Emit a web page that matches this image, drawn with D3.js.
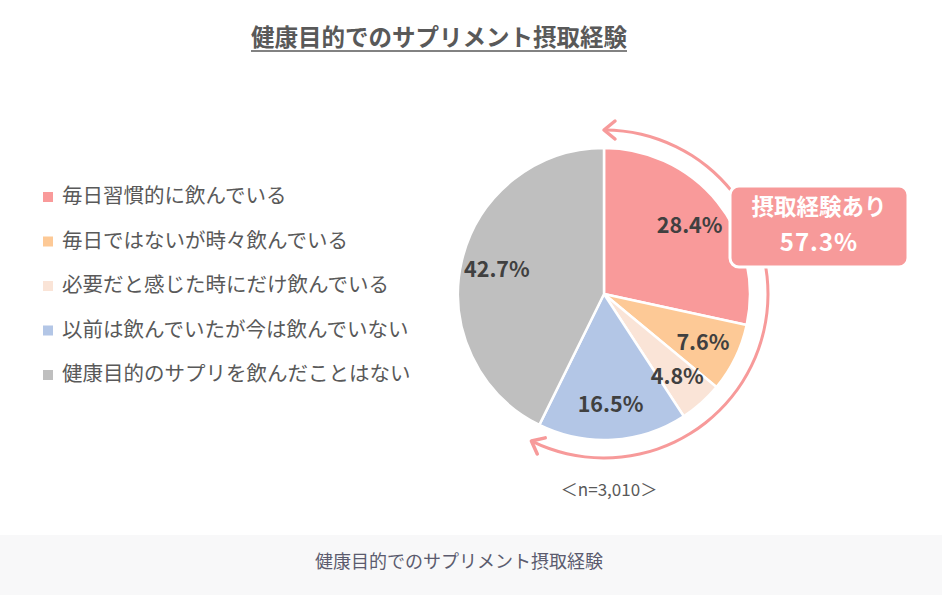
<!DOCTYPE html>
<html>
<head>
<meta charset="utf-8">
<script src="https://cdn.jsdelivr.net/npm/d3@7"></script>
<style>
  body { margin: 0; background: #fff; }
  svg { display: block; font-family: "Noto Sans CJK JP", "Noto Sans", sans-serif; }
</style>
</head>
<body>
<div class="chart"></div>
<script>
// data
const categories = [
  "毎日習慣的に飲んでいる",
  "毎日ではないが時々飲んでいる",
  "必要だと感じた時にだけ飲んでいる",
  "以前は飲んでいたが今は飲んでいない",
  "健康目的のサプリを飲んだことはない"
];
const values = [28.4, 7.6, 4.8, 16.5, 42.7];
const colors = ["#f99a9a", "#fdc996", "#fae4d7", "#b3c6e6", "#bfbfbf"];
const titleText = "健康目的でのサプリメント摂取経験";
const calloutLabel = "摂取経験あり";
const calloutValue = "57.3%";
const sampleText = "＜n=3,010＞";
const experiencedCount = 4; // first four slices make up the 57.3%

const width = 942, height = 595;
const svg = d3.select(".chart").append("svg")
  .attr("width", width)
  .attr("height", height);

// footer band
svg.append("rect")
  .attr("x", 0).attr("y", 535)
  .attr("width", width).attr("height", height - 535)
  .attr("fill", "#f8f8f9");
svg.append("text")
  .attr("x", 459).attr("y", 568)
  .attr("text-anchor", "middle")
  .attr("fill", "#5b5b6e")
  .style("font-size", "18px")
  .text(titleText);

// title with underline
const title = svg.append("text")
  .attr("x", 439).attr("y", 46)
  .attr("text-anchor", "middle")
  .attr("fill", "#595959")
  .style("font-size", "23.5px")
  .style("font-weight", "bold")
  .text(titleText);
const tw = title.node().getComputedTextLength();
svg.append("line")
  .attr("x1", 439 - tw / 2).attr("x2", 439 + tw / 2)
  .attr("y1", 51).attr("y2", 51)
  .attr("stroke", "#595959").attr("stroke-width", 1.5);

// legend
const legend = svg.append("g").attr("class", "legend");
const rowY = d3.scalePoint().domain(categories).range([196, 374]);
categories.forEach((c, i) => {
  const y = rowY(c);
  legend.append("rect")
    .attr("x", 43).attr("y", y - 4)
    .attr("width", 10).attr("height", 10)
    .attr("fill", colors[i]);
  legend.append("text")
    .attr("x", 62).attr("y", y + 7)
    .attr("fill", "#595959")
    .style("font-size", "20.5px")
    .text(c);
});

// pie
const cx = 604, cy = 294, r = 146;
const g = svg.append("g").attr("transform", `translate(${cx},${cy})`);
const pie = d3.pie().sort(null).value(d => d);
const arcs = pie(values);
const arc = d3.arc().innerRadius(0).outerRadius(r);
const labelArc = d3.arc().innerRadius(110).outerRadius(110);

g.selectAll("path.slice")
  .data(arcs)
  .join("path")
  .attr("class", "slice")
  .attr("d", arc)
  .attr("fill", (d, i) => colors[i])
  .attr("stroke", "#fff")
  .attr("stroke-width", 2.5);

g.selectAll("text.pct")
  .data(arcs)
  .join("text")
  .attr("class", "pct")
  .attr("transform", d => `translate(${labelArc.centroid(d)})`)
  .attr("text-anchor", "middle")
  .attr("dy", "0.36em")
  .attr("fill", "#404040")
  .style("font-size", "21.5px")
  .style("font-weight", "bold")
  .text(d => d.data.toFixed(1) + "%");

// arc with arrows around the "experienced" slices
const endAngle = arcs[experiencedCount - 1].endAngle;
const ringR = 164;
const pink = "#f79a9a";
g.append("path")
  .attr("d", d3.arc().innerRadius(ringR - 1.5).outerRadius(ringR + 1.5)
    .startAngle(0.005).endAngle(endAngle - 0.005)())
  .attr("fill", pink);

const chevron = d3.line()([[-11, -9], [0, 0], [-11, 9]]);
const arrowAt = (theta, rot) => {
  const x = ringR * Math.sin(theta), y = -ringR * Math.cos(theta);
  g.append("path")
    .attr("d", chevron)
    .attr("transform", `translate(${x},${y}) rotate(${rot})`)
    .attr("fill", "none")
    .attr("stroke", pink)
    .attr("stroke-width", 3.5)
    .attr("stroke-linecap", "round")
    .attr("stroke-linejoin", "round");
};
arrowAt(0, 180);
arrowAt(endAngle, endAngle * 180 / Math.PI);

// callout box
const box = svg.append("g").attr("class", "callout");
box.append("rect")
  .attr("x", 730).attr("y", 186)
  .attr("width", 178).attr("height", 81)
  .attr("rx", 9)
  .attr("fill", pink)
  .attr("stroke", "#fff")
  .attr("stroke-width", 3);
box.append("text")
  .attr("x", 819).attr("y", 215)
  .attr("text-anchor", "middle")
  .attr("fill", "#fff")
  .style("font-size", "22.5px")
  .style("font-weight", "bold")
  .text(calloutLabel);
box.append("text")
  .attr("x", 819).attr("y", 251)
  .attr("text-anchor", "middle")
  .attr("fill", "#fff")
  .style("font-size", "24px")
  .style("font-weight", "bold")
  .style("letter-spacing", "1px")
  .text(calloutValue);

// sample size
svg.append("text")
  .attr("x", 609).attr("y", 496)
  .attr("text-anchor", "middle")
  .attr("fill", "#595959")
  .style("font-size", "17px")
  .text(sampleText);
</script>
</body>
</html>
